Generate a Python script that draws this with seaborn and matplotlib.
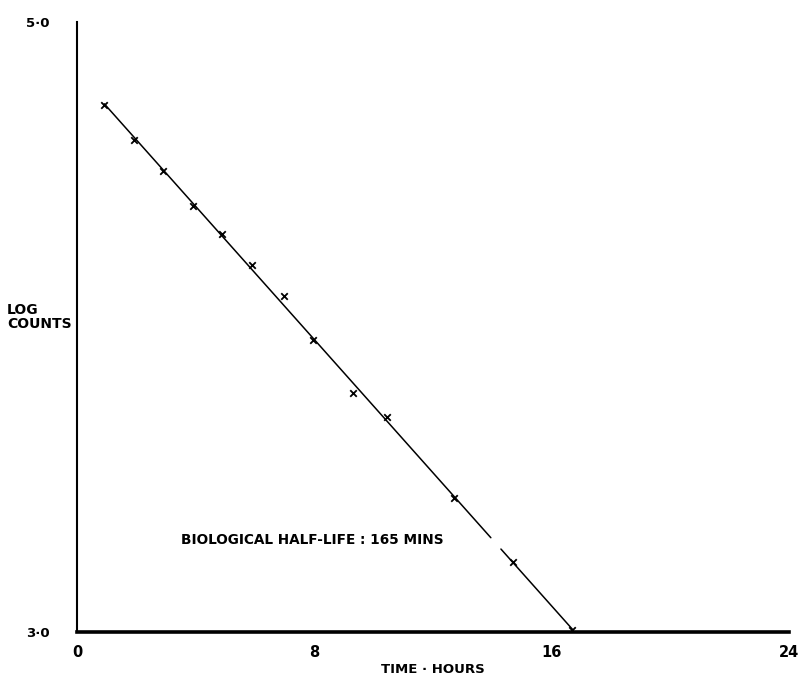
import numpy as np
import pandas as pd
import matplotlib
matplotlib.use("Agg")
import matplotlib.pyplot as plt
import seaborn as sns

# Data
time_hours = [0.92, 1.93, 2.91, 3.92, 4.9, 5.91, 6.99, 7.97, 9.29, 10.44, 12.7, 14.7, 16.7]
log_counts = [4.727, 4.612, 4.51, 4.398, 4.306, 4.204, 4.102, 3.957, 3.783, 3.704, 3.438, 3.231, 3.007]
x_ticks = [0, 8, 16, 24]
x_tick_labels = ["0", "8", "16", "24"]
y_ticks = [3.0, 5.0]
y_tick_labels = ["3·0", "5·0"]
line_gap = [13.95, 14.29]   # small break in the hand-drawn line
annotation = "BIOLOGICAL HALF-LIFE : 165 MINS"

sns.set_theme(style="white")
plt.rcParams['font.family'] = ['DejaVu Sans']
plt.rcParams['text.color'] = 'black'
plt.rcParams['axes.labelcolor'] = 'black'
plt.rcParams['xtick.color'] = 'black'
plt.rcParams['ytick.color'] = 'black'

fig = plt.figure(figsize=(7.99, 6.75), dpi=100)
ax = fig.add_axes([77/799, 1 - 632/675, (789 - 77)/799, (632 - 22)/675])

df = pd.DataFrame({"t": time_hours, "y": log_counts})

# fitted straight line, drawn in two pieces
slope, intercept = np.polyfit(df["t"], df["y"], 1)
seg1 = pd.DataFrame({"t": [min(time_hours), line_gap[0]]})
seg2 = pd.DataFrame({"t": [line_gap[1], max(time_hours)]})
for seg in (seg1, seg2):
    seg["y"] = intercept + slope * seg["t"]
    sns.lineplot(data=seg, x="t", y="y", ax=ax, color="black", linewidth=1.1)

sns.scatterplot(data=df, x="t", y="y", ax=ax, marker="x", color="black",
                s=22, linewidth=1.3, zorder=3)

ax.set_xlim(0, 24)
ax.set_ylim(3.0, 5.0)
ax.set_xticks(x_ticks)
ax.set_xticklabels(x_tick_labels, fontweight="heavy", fontsize=10.5, color="black")
ax.set_yticks(y_ticks)
ax.set_yticklabels(y_tick_labels, fontweight="heavy", fontsize=9.5, color="black")
ax.tick_params(axis="x", length=3, width=1.2, color="black", pad=8, direction="inout")
ax.tick_params(axis="y", length=0, pad=28)
for lab in ax.get_yticklabels():
    lab.set_horizontalalignment("center")

ax.set_xlabel("TIME · HOURS", fontweight="heavy", fontsize=9.5, labelpad=2, color="black")
ax.set_ylabel("")
fig.text(7/799, 1 - 317/675, "LOG\nCOUNTS", fontweight="heavy", fontsize=10,
         ha="left", va="center", linespacing=1.0, color="black")

ax.text(3.5, 3.30, annotation, fontweight="heavy", fontsize=9.8,
        ha="left", va="center", color="black")

sns.despine(ax=ax)
ax.spines["left"].set_color("black")
ax.spines["left"].set_linewidth(1.5)
ax.spines["bottom"].set_color("black")
ax.spines["bottom"].set_linewidth(2.6)
ax.grid(False)

fig.savefig("out.png", dpi=100, facecolor="white")
